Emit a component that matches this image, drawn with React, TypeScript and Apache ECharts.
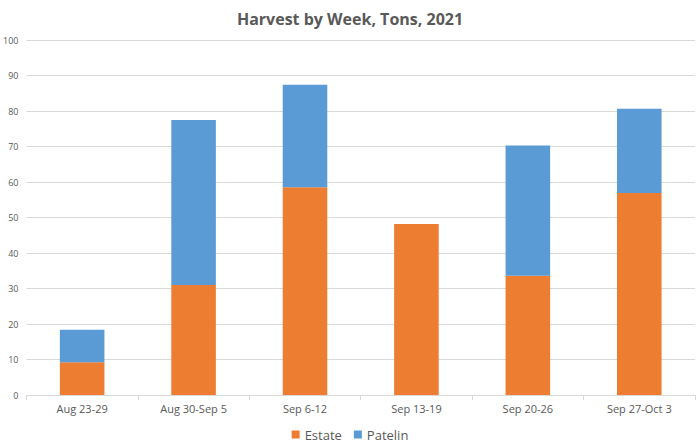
import React, { useEffect, useRef } from 'react';
import * as echarts from 'echarts';

const weeks = ['Aug 23-29', 'Aug 30-Sep 5', 'Sep 6-12', 'Sep 13-19', 'Sep 20-26', 'Sep 27-Oct 3'];
const estate = [9.2, 31.0, 58.5, 48.2, 33.6, 56.9];
const patelin = [9.2, 46.5, 28.9, 0, 36.7, 23.7];

const FONT = '"Open Sans", "Liberation Sans", sans-serif';

export default function App() {
  const chartRef = useRef<HTMLDivElement>(null);

  useEffect(() => {
    const chart = echarts.init(chartRef.current, null, { renderer: 'svg' });

    chart.setOption({
      animation: false,
      textStyle: { fontFamily: FONT },
      title: {
        text: 'Harvest by Week, Tons, 2021',
        left: 'center',
        top: 6,
        textStyle: { fontSize: 16, fontWeight: 'bold', color: '#595959', fontFamily: FONT }
      },
      legend: {
        bottom: 1,
        left: 'center',
        itemWidth: 8,
        itemHeight: 8,
        itemGap: 12,
        icon: 'rect',
        textStyle: { fontSize: 13, color: '#595959' },
        data: ['Estate', 'Patelin']
      },
      grid: { left: 25, right: 5, top: 40, bottom: 52 },
      xAxis: {
        type: 'category',
        data: weeks,
        axisLine: { lineStyle: { color: '#d9d9d9' } },
        axisTick: { show: true, alignWithLabel: false, length: 5, lineStyle: { color: '#d9d9d9' } },
        axisLabel: { color: '#595959', fontSize: 11, margin: 8 }
      },
      yAxis: {
        type: 'value',
        min: 0,
        max: 100,
        interval: 10,
        axisLine: { show: false },
        axisTick: { show: false },
        axisLabel: { color: '#595959', fontSize: 9, margin: 8 },
        splitLine: { lineStyle: { color: '#d9d9d9' } }
      },
      series: [
        {
          name: 'Estate',
          type: 'bar',
          stack: 'total',
          barWidth: '40%',
          data: estate,
          itemStyle: { color: '#ED7D31' }
        },
        {
          name: 'Patelin',
          type: 'bar',
          stack: 'total',
          barWidth: '40%',
          data: patelin,
          itemStyle: { color: '#5B9BD5' }
        }
      ]
    });

    return () => {
      chart.dispose();
    };
  }, []);

  return (
    <div
      ref={chartRef}
      style={{ position: 'absolute', top: 0, left: 0, width: '700px', height: '447px', background: '#fff' }}
    ></div>
  );
}
